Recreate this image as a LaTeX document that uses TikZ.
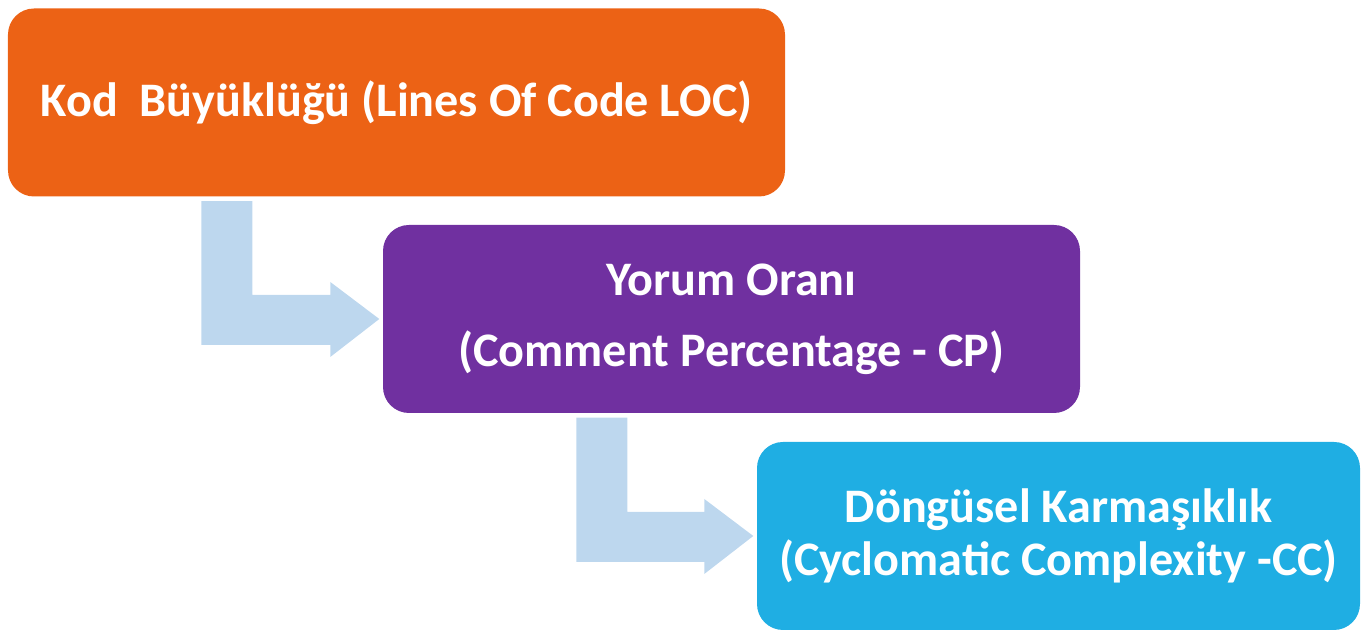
\documentclass[tikz,border=0pt]{standalone}
\usepackage{fontspec}
\setmainfont{Carlito}
\definecolor{metorange}{RGB}{236,98,21}
\definecolor{metpurple}{RGB}{112,48,160}
\definecolor{metcyan}{RGB}{31,174,227}
\definecolor{metarrow}{RGB}{189,215,238}
\usetikzlibrary{calc}

% bent block arrow: down from the bottom of #1, then right into the west side of #2
\newcommand{\bendarrow}[2]{%
  \fill[metarrow] let \p1=(#1.south west), \p2=(#2.west) in
    (\x1+1.94cm,\y1-0.04cm) -- (\x1+2.45cm,\y1-0.04cm) -- (\x1+2.45cm,\y2+0.24cm)
    -- (\x2-0.52cm,\y2+0.24cm) -- (\x2-0.52cm,\y2+0.37cm) -- (\x2-0.03cm,\y2)
    -- (\x2-0.52cm,\y2-0.38cm) -- (\x2-0.52cm,\y2-0.26cm) -- (\x1+1.94cm,\y2-0.26cm) -- cycle;}

\begin{document}
\begin{tikzpicture}
  \useasboundingbox (0,0) rectangle (13.61,6.30);
  \tikzset{
    metricbox/.style={rounded corners=0.26cm, inner sep=0pt, align=center, text=white,
      font=\fontsize{13.7}{15.3}\selectfont\bfseries, minimum height=1.88cm}
  }

  % Metric boxes
  \node[metricbox, fill=metorange, minimum width=7.77cm] (loc) at (3.965,5.275) {Kod\ \ Büyüklüğü (Lines Of Code LOC)};
  \node[metricbox, fill=metpurple, minimum width=6.97cm] (cp) at (7.315,3.11) {Yorum Oranı\\[5pt](Comment Percentage - CP)};
  \node[metricbox, fill=metcyan, minimum width=6.03cm] (cc) at (10.585,0.94) {Döngüsel Karmaşıklık\\(Cyclomatic Complexity -CC)};

  % Connecting arrows
  \bendarrow{loc}{cp}
  \bendarrow{cp}{cc}
\end{tikzpicture}
\end{document}
